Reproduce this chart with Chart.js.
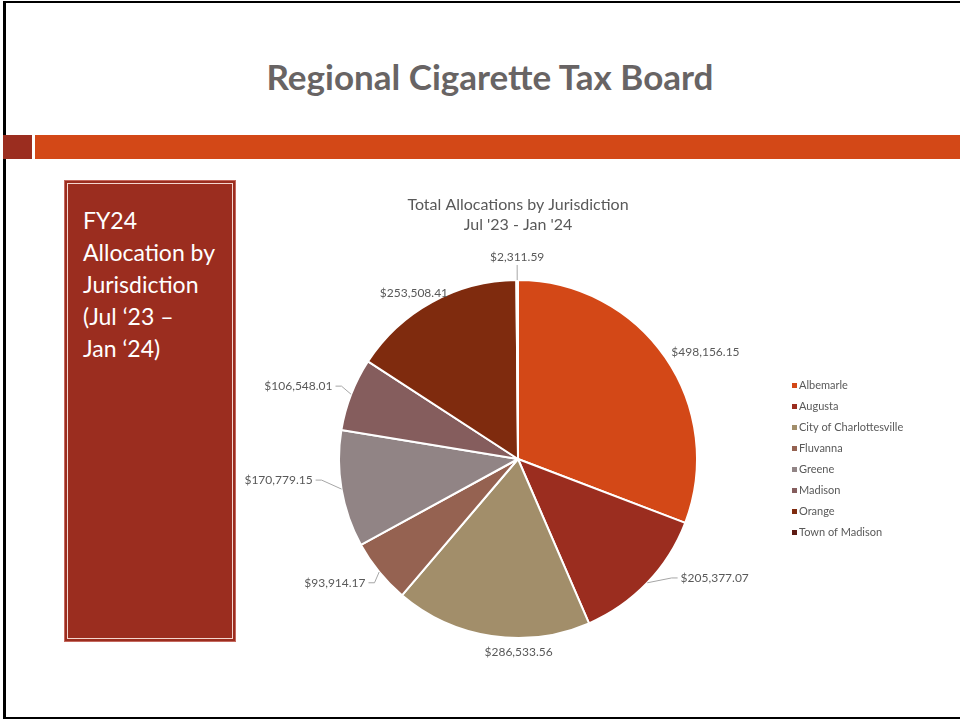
<!DOCTYPE html>
<html>
<head>
<meta charset="utf-8">
<script src="https://cdn.jsdelivr.net/npm/chart.js@4.4.1/dist/chart.umd.min.js"></script>
<style>
    html, body {
        margin: 0;
        padding: 0;
        background: #ffffff;
        width: 960px;
        height: 719px;
        overflow: hidden;
        font-family: Lato, "Noto Sans", sans-serif;
    }
    .slide-frame {
        position: absolute;
        left: 3px;
        top: 1px;
        width: 1000px;
        height: 714px;
        border-left: 3px solid #000;
        border-top: 2px solid #000;
        border-bottom: 2px solid #000;
    }
    .slide-title {
        position: absolute;
        left: 0;
        width: 980px;
        top: 56px;
        margin: 0;
        text-align: center;
        font-size: 35px;
        line-height: 40px;
        font-weight: 700;
        color: #686464;
    }
    .bar-dark {
        position: absolute;
        left: 3px; top: 135px;
        width: 29px; height: 24px;
        background: #9B2D1F;
    }
    .bar-orange {
        position: absolute;
        left: 35px; top: 135px;
        width: 925px; height: 24px;
        background: #D34817;
    }
    .side-box {
        position: absolute;
        left: 64px; top: 180px;
        width: 172px; height: 462px;
        background: #9B2D1F;
        border: 1px solid #c4685e;
        box-sizing: border-box;
        padding: 2px;
    }
    .side-box .inner {
        width: 100%;
        height: 100%;
        box-sizing: border-box;
        border: 1px solid #f4d6cf;
        padding: 20px 0 0 15px;
        color: #ffffff;
        font-size: 23px;
        line-height: 32px;
    }
    .chart-wrap {
        position: absolute;
        left: 240px;
        top: 190px;
        width: 720px;
        height: 470px;
    }
</style>
</head>
<body>
<div class="slide-frame"></div>
<h1 class="slide-title">Regional Cigarette Tax Board</h1>
<div class="bar-dark"></div>
<div class="bar-orange"></div>
<div class="side-box"><div class="inner">FY24<br>Allocation by<br>Jurisdiction<br>(Jul ‘23 –<br>Jan ‘24)</div></div>
<div class="chart-wrap"><canvas id="allocChart"></canvas></div>

<script>
// Données
const jurisdictions = [
    'Albemarle',
    'Augusta',
    'City of Charlottesville',
    'Fluvanna',
    'Greene',
    'Madison',
    'Orange',
    'Town of Madison'
];
const allocations = [
    498156.15,
    205377.07,
    286533.56,
    93914.17,
    170779.15,
    106548.01,
    253508.41,
    2311.59
];
const sliceColors = [
    '#D34817',
    '#9B2D1F',
    '#A28E6A',
    '#956251',
    '#918485',
    '#855D5D',
    '#7F2B0E',
    '#5D1B13'
];
const chartTitle = ['Total Allocations by Jurisdiction', "Jul '23 - Jan '24"];

const money = v => '$' + v.toLocaleString('en-US', { minimumFractionDigits: 2, maximumFractionDigits: 2 });

// Étiquettes de valeur à l'extérieur, avec lignes de rappel
const outsideLabels = {
    id: 'outsideLabels',
    afterDatasetsDraw(chart, args, opts) {
        const ctx = chart.ctx;
        const meta = chart.getDatasetMeta(0);
        const values = chart.data.datasets[0].data;
        ctx.save();
        ctx.font = '12px Lato, "Noto Sans", sans-serif';
        ctx.fillStyle = '#595959';
        ctx.strokeStyle = '#a6a6a6';
        ctx.lineWidth = 1;
        meta.data.forEach((arc, i) => {
            const { x, y, startAngle, endAngle, outerRadius } = arc.getProps(['x', 'y', 'startAngle', 'endAngle', 'outerRadius'], true);
            const mid = (startAngle + endAngle) / 2;
            const cx = Math.cos(mid), cy = Math.sin(mid);
            const tweak = opts.nudges[i] || [0, 0, false];
            const ex = x + outerRadius * cx, ey = y + outerRadius * cy;
            const ax = x + (outerRadius + opts.gap) * cx + tweak[0];
            const ay = y + (outerRadius + opts.gap) * cy + tweak[1];
            let tx = ax, ty = ay, align;
            if (Math.abs(cx) < 0.3) {
                align = 'center';
                ty = cy < 0 ? ay - 8 : ay + 8;
            } else if (cx > 0) {
                align = 'left';
                tx = ax + 3;
            } else {
                align = 'right';
                tx = ax - 3;
            }
            if (tweak[2]) {
                ctx.beginPath();
                ctx.moveTo(ex, ey);
                if (align === 'center') {
                    ctx.lineTo(ax, ay);
                } else {
                    const dir = align === 'left' ? -1 : 1;
                    ctx.lineTo(ax + dir * 6, ay);
                    ctx.lineTo(ax, ay);
                }
                ctx.stroke();
            }
            ctx.textAlign = align;
            ctx.textBaseline = 'middle';
            ctx.fillText(money(values[i]), tx, ty);
        });
        ctx.restore();
    }
};

// Légende à droite, dessinée à part pour garder le titre centré sur le camembert
const sideLegend = {
    id: 'sideLegend',
    afterDraw(chart, args, opts) {
        const ctx = chart.ctx;
        const area = chart.chartArea;
        const labels = chart.data.labels;
        const colors = chart.data.datasets[0].backgroundColor;
        const cy = (area.top + area.bottom) / 2;
        const y0 = cy - (labels.length - 1) / 2 * opts.step;
        const x0 = area.right + opts.offset;
        ctx.save();
        ctx.font = '11px Lato, "Noto Sans", sans-serif';
        ctx.textBaseline = 'middle';
        ctx.textAlign = 'left';
        labels.forEach((lab, i) => {
            const yy = y0 + i * opts.step;
            ctx.fillStyle = colors[i];
            ctx.fillRect(x0, yy - 2.5, 5, 5);
            ctx.fillStyle = '#595959';
            ctx.fillText(lab, x0 + 7, yy);
        });
        ctx.restore();
    }
};

const createAllocationChart = (canvasId) => {
    const ctx = document.getElementById(canvasId).getContext('2d');

    return new Chart(ctx, {
        type: 'pie',
        data: {
            labels: jurisdictions,
            datasets: [{
                data: allocations,
                backgroundColor: sliceColors,
                borderColor: '#ffffff',
                borderWidth: 2
            }]
        },
        options: {
            responsive: true,
            maintainAspectRatio: false,
            animation: false,
            layout: {
                padding: { left: 60, right: 224, top: 5, bottom: 21 }
            },
            plugins: {
                legend: { display: false },
                tooltip: { enabled: false },
                title: {
                    display: true,
                    text: chartTitle,
                    color: '#595959',
                    font: { family: 'Lato, "Noto Sans", sans-serif', size: 16, weight: 'normal', lineHeight: 20 / 16 },
                    padding: { top: 0, bottom: 44 }
                },
                outsideLabels: {
                    gap: 6,
                    nudges: [
                        [-2, -2, false],
                        [26, -9, true],
                        [28, 2, false],
                        [-6, 7, true],
                        [-20, -10, true],
                        [-10, -6, true],
                        [22, -4, false],
                        [0, -9, true]
                    ]
                },
                sideLegend: { offset: 56, step: 21 }
            }
        },
        plugins: [outsideLabels, sideLegend]
    });
};

createAllocationChart('allocChart');
</script>
</body>
</html>
